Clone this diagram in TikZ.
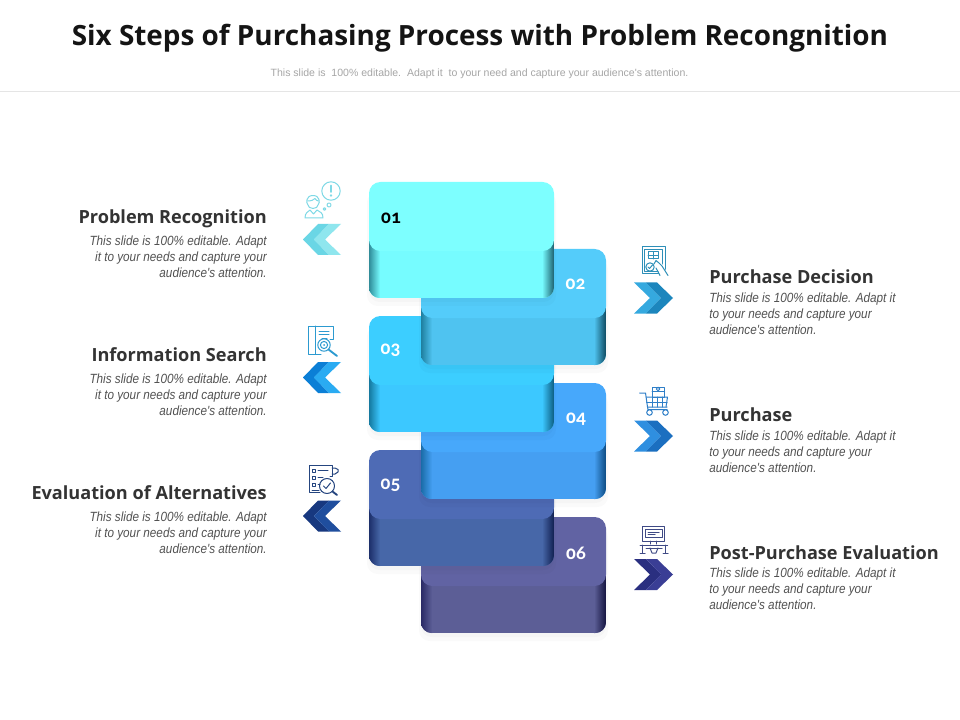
\documentclass[tikz,border=0pt]{standalone}
\usepackage{fontspec}
\setmainfont{Open Sans}
\newfontfamily\bodyfont[ItalicFeatures={FakeStretch=0.88}]{Liberation Sans}
\newfontfamily\subfont{Liberation Sans}
\newfontfamily\numfont[Numbers=OldStyle]{Carlito}
\tikzset{
  x=0.75pt,y=-0.75pt,
  titletext/.style={font=\fontsize{20.9}{26}\selectfont\bfseries,text=black!92,inner sep=0},
  subtext/.style={font=\subfont\fontsize{7.9}{9}\selectfont,text=black!35,inner sep=0},
  headtext/.style={font=\fontsize{13.6}{17}\selectfont\bfseries,text=black!80,inner sep=0},
  bodytext/.style={font=\bodyfont\itshape\fontsize{10}{12}\selectfont,text=black!68,inner sep=0},
  numtext/.style={font=\numfont\bfseries\fontsize{14.5}{17}\selectfont,inner sep=0},
  iconline/.style={line width=0.75pt,line cap=round,line join=round},
}
% x, y, top colour, front colour, left dark, right dark
\newcommand{\stepblock}[6]{%
 \definecolor{bTop}{HTML}{#3}\definecolor{bFront}{HTML}{#4}%
 \definecolor{bLeft}{HTML}{#5}\definecolor{bRight}{HTML}{#6}%
 \begin{scope}[shift={(#1,#2)}]
  \fill[black,opacity=.02,rounded corners=8pt] (-2,10) rectangle (187,124);
  \fill[black,opacity=.02,rounded corners=8pt] (0,10) rectangle (185,120);
  \begin{scope}
   \clip[rounded corners=8pt] (0,40) rectangle (185,116);
   \fill[bFront] (0,40) rectangle (185,116);
   \shade[left color=bLeft,right color=bFront] (0,40) rectangle (11,116);
   \shade[left color=bFront,right color=bRight] (173,40) rectangle (185,116);
  \end{scope}
  \fill[bTop,rounded corners=8.5pt] (0,0) rectangle (185,69);
 \end{scope}}
\newcommand{\chevL}[3]{% cy, dark, light
 \definecolor{cA}{HTML}{#2}\definecolor{cB}{HTML}{#3}%
 \fill[cA] (303,#1) -- (318,#1-15.5) -- (329,#1-15.5) -- (314,#1) -- (329,#1+15.5) -- (318,#1+15.5) -- cycle;
 \fill[cB] (314,#1) -- (329,#1-15.5) -- (341,#1-15.5) -- (325,#1) -- (341,#1+15.5) -- (329,#1+15.5) -- cycle;}
\newcommand{\chevR}[3]{% cy, light, dark
 \definecolor{cA}{HTML}{#2}\definecolor{cB}{HTML}{#3}%
 \fill[cA] (634,#1-15.5) -- (646,#1-15.5) -- (661,#1) -- (646,#1+15.5) -- (634,#1+15.5) -- (650,#1) -- cycle;
 \fill[cB] (646,#1-15.5) -- (657,#1-15.5) -- (673,#1) -- (657,#1+15.5) -- (646,#1+15.5) -- (661,#1) -- cycle;}
\definecolor{ic1}{HTML}{7FD9E6}
\definecolor{ic2}{HTML}{2C9AD0}
\definecolor{ic3}{HTML}{25457F}
\definecolor{ic4}{HTML}{2E8FB8}
\definecolor{ic5}{HTML}{2F7FC8}
\definecolor{ic6}{HTML}{3F4A85}
\begin{document}
\begin{tikzpicture}
\useasboundingbox (0,0) rectangle (960,720);
\fill[white] (0,0) rectangle (960,720);
\node[titletext] (title) at (480,38) {Six Steps of Purchasing Process with Problem Recongnition};
\node[subtext] (subtitle) at (479.5,74) {This slide is\ \ 100\% editable.\ \ Adapt it\ \ to your need and capture your audience's attention.};
\draw[black!10,line width=0.5pt] (0,91) -- (960,91);

% blocks, bottom to top
\stepblock{421}{517}{6163A3}{5C5E96}{2A2A66}{14143F}
\stepblock{369}{450}{4E6BB5}{4767A8}{1C2F6A}{101F50}
\stepblock{421}{383}{47A8FB}{459FF2}{1A6CA8}{0C4A80}
\stepblock{369}{316}{3CCEFF}{3CC8FF}{14799F}{0C5C80}
\stepblock{421}{249}{54CCFA}{4FC3F0}{1F7F9F}{0E4A60}
\stepblock{369}{182}{7DFFFF}{76FCFF}{2F8C99}{1C5F6E}

\node[numtext,text=black] (n1) at (391,218) {01};
\node[numtext,text=white] (n2) at (575.5,284) {02};
\node[numtext,text=white] (n3) at (390.5,350) {03};
\node[numtext,text=white] (n4) at (576,419) {04};
\node[numtext,text=white] (n5) at (390.5,485) {05};
\node[numtext,text=white] (n6) at (576,553) {06};

% chevrons
\chevL{239.5}{6AD6E5}{8FE6EE}
\chevL{377.5}{0B7FD6}{2AABF2}
\chevL{516}{17387F}{1F4E9E}
\chevR{298}{35A9DF}{1C86BD}
\chevR{436}{2F8FE0}{1B6FC0}
\chevR{574.5}{2A2F80}{3A3E95}

% left texts
\node[headtext,anchor=east] (h1) at (267,218.5) {Problem Recognition};
\node[bodytext,anchor=north east,align=right] (t1) at (267,236) {This slide is 100\% editable. Adapt\\it to your needs and capture your\\audience's attention.};
\node[headtext,anchor=east] (h3) at (267,355) {Information Search};
\node[bodytext,anchor=north east,align=right] (t3) at (267,374) {This slide is 100\% editable. Adapt\\it to your needs and capture your\\audience's attention.};
\node[headtext,anchor=east] (h5) at (267,493) {Evaluation of Alternatives};
\node[bodytext,anchor=north east,align=right] (t5) at (267,512) {This slide is 100\% editable. Adapt\\it to your needs and capture your\\audience's attention.};
% right texts
\node[headtext,anchor=west] (h2) at (709,277) {Purchase Decision};
\node[bodytext,anchor=north west,align=left] (t2) at (709,293) {This slide is 100\% editable. Adapt it\\to your needs and capture your\\audience's attention.};
\node[headtext,anchor=west] (h4) at (709,415) {Purchase};
\node[bodytext,anchor=north west,align=left] (t4) at (709,431) {This slide is 100\% editable. Adapt it\\to your needs and capture your\\audience's attention.};
\node[headtext,anchor=west] (h6) at (709,553) {Post-Purchase Evaluation};
\node[bodytext,anchor=north west,align=left] (t6) at (709,568) {This slide is 100\% editable. Adapt it\\to your needs and capture your\\audience's attention.};

% icon 1: person with thought bubble
\begin{scope}[iconline,draw=ic1]
 \draw (331,191) circle (9.2);
 \draw[line width=1.3pt] (331,185.5) -- (331,192);
 \draw (331,195.5) circle (0.7);
 \draw (329,205) circle (2);
 \draw (324.5,209) circle (1.3);
 \draw (313,195.5) .. controls (306,195.5) and (306,203) .. (307.5,204) .. controls (308,210) and (318,210) .. (318.5,204) .. controls (320,203) and (320,195.5) .. (313,195.5);
 \draw (307.5,201) .. controls (311,201) and (314,200) .. (315,198.5) .. controls (316,200) and (317,201) .. (318.5,201);
 \draw (305,218) .. controls (305,212.5) and (308,212) .. (310,210) -- (313.5,214) -- (317,210) .. controls (320,212) and (323,212.5) .. (323,218) -- cycle;
\end{scope}
% icon 3: book with magnifier
\begin{scope}[iconline,draw=ic2]
 \draw (330,339) -- (333,339) -- (333,326) -- (308,326) -- (308,354) -- (321,354);
 \draw (315,326) -- (315,354);
 \draw (319,331) -- (329,331) (319,334.5) -- (329,334.5) (322,338) -- (327,338);
 \draw (324,345) circle (6.2);
 \draw (324,345) circle (3.6);
 \fill[ic2] (324,345) circle (1);
 \draw[line width=1.4pt] (328.5,349.5) -- (337,356);
\end{scope}
% icon 5: checklist with magnifier
\begin{scope}[iconline,draw=ic3]
 \draw (330,476) -- (332,476) -- (332,465) -- (309,465) -- (309,492) -- (320,492);
 \draw (312,469) rectangle (315.5,472.5);
 \draw (312,476) rectangle (315.5,479.5);
 \draw (312,483) rectangle (315.5,486.5);
 \draw (318,470.5) -- (328,470.5) (318,477.5) -- (323,477.5) (318,484.5) -- (320,484.5) (312,490) -- (319,490);
 \draw (332,468) -- (335,468) -- (338,469.5) -- (338,472) -- (335,474) -- (332,474);
 \draw (327,486) circle (7.5);
 \draw (323.5,486) -- (326,488.5) -- (330.5,483);
 \draw[line width=1.4pt] (332.5,491.5) -- (337,495);
\end{scope}
% icon 2: decision screen with hand
\begin{scope}[iconline,draw=ic4]
 \draw (642,247) rectangle (665,274);
 \draw (644.5,249.5) rectangle (662.5,271.5);
 \draw (648,252) rectangle (658,259);
 \draw (653,252) -- (653,259) (648,255.5) -- (658,255.5);
 \draw (650,267) circle (4.2);
 \draw (648,267) -- (649.5,268.5) -- (652.5,265);
 \fill[white] (655,261) -- (660,260) -- (669,276) -- (660,276) -- cycle;
 \draw (654,264) -- (656,260.5) -- (659,263) -- (662,266) -- (668,275.5);
 \draw (656,268) -- (660,275.5);
\end{scope}
% icon 4: shopping cart
\begin{scope}[iconline,draw=ic5]
 \draw (639.5,393) -- (645.5,393) -- (647.5,407) -- (667,407);
 \draw (646,397) -- (667.5,397) -- (666,407);
 \draw (652,397) -- (652,407) (657,397) -- (657,407) (662,397) -- (662,407) (646.5,402) -- (667,402);
 \draw (652,387) rectangle (664.5,397);
 \draw (652,391) -- (664.5,391);
 \draw (658,389) circle (1.8);
 \draw (647.5,407) -- (648,409.5) -- (667,409.5);
 \draw (649.5,412.5) circle (2.8);
 \draw (665.5,412.5) circle (2.8);
\end{scope}
% icon 6: computer on a table
\begin{scope}[iconline,draw=ic6]
 \draw (642.5,526) rectangle (664.5,541);
 \draw (645,529) rectangle (662,537);
 \draw (648,532) -- (659,532) (648,534.5) -- (655,534.5);
 \draw (650.5,541) -- (650.5,544) (656.5,541) -- (656.5,544);
 \draw (640,545) -- (667.5,545);
 \draw (642,545) -- (642,553) (665.5,545) -- (665.5,553);
 \draw (640,553) -- (645,553) (663,553) -- (668,553);
 \draw (646,548) -- (662,548);
 \draw (650,548) -- (652,553) -- (656,553) -- (658,548);
\end{scope}
\end{tikzpicture}
\end{document}
